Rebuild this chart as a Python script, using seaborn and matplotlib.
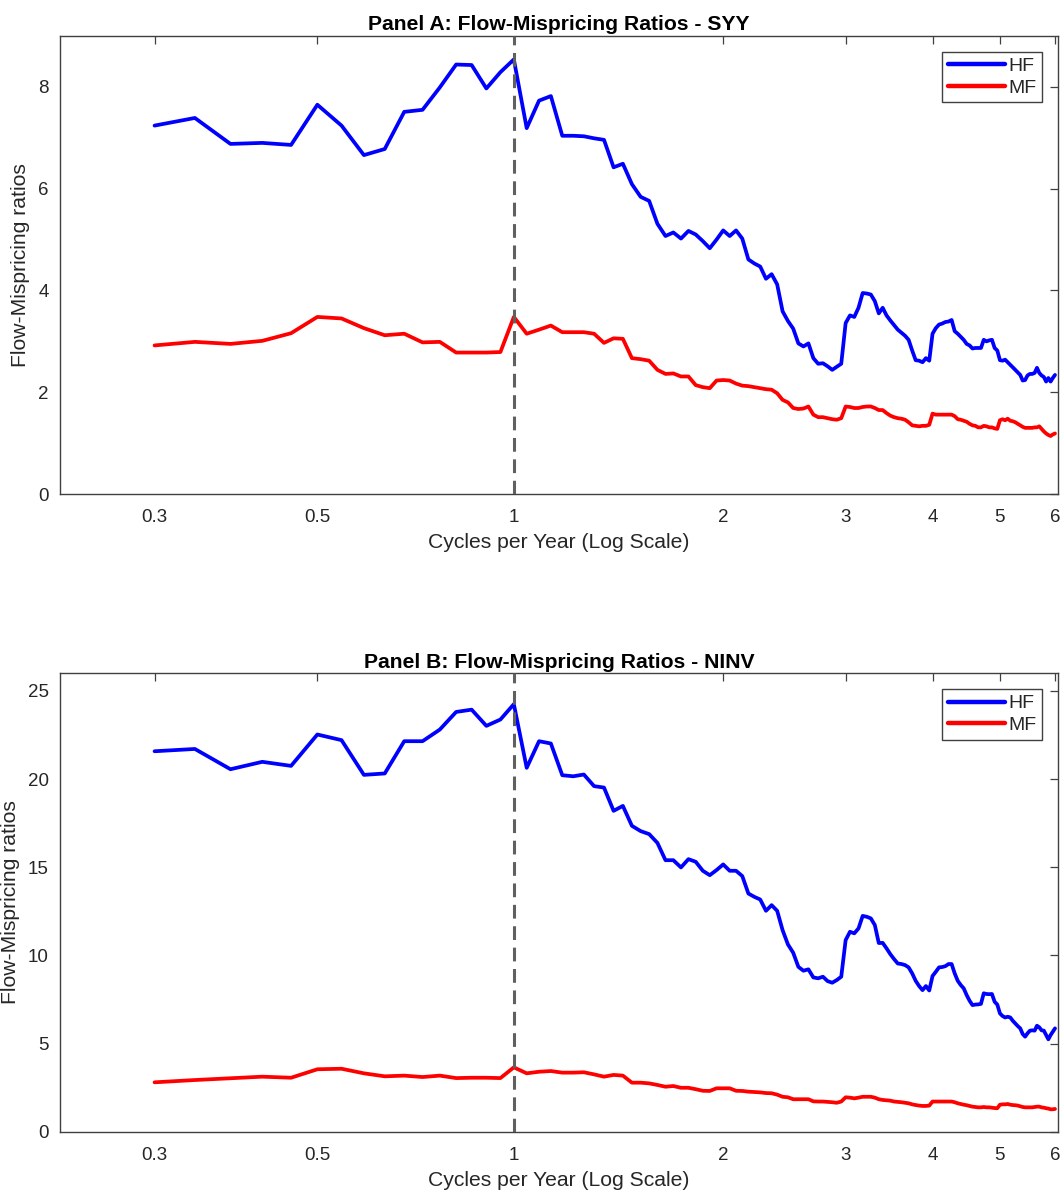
import numpy as np
import pandas as pd
import seaborn as sns
import matplotlib
matplotlib.use('Agg')
import matplotlib.pyplot as plt
from matplotlib.ticker import NullLocator, FixedLocator, FixedFormatter

sns.set_style('white')
plt.rcParams['font.family'] = ['Liberation Sans', 'DejaVu Sans']
plt.rcParams['xtick.direction'] = 'in'
plt.rcParams['ytick.direction'] = 'in'
plt.rcParams['xtick.top'] = True
plt.rcParams['ytick.right'] = True

# frequency grid in cycles per year (k / 23, k = 7 ... 138)
freq = np.arange(7, 139) / 23

syy_hf = [7.24, 7.39, 6.88, 6.90, 6.86, 7.65, 7.24, 6.66, 6.78, 7.51, 7.55, 7.99, 8.44, 8.43, 7.97, 8.29, 8.54,
          7.19, 7.73, 7.82, 7.04, 7.04, 7.03, 6.99, 6.96, 6.42, 6.49, 6.09, 5.84, 5.76, 5.31, 5.07, 5.14, 5.02, 5.17, 5.10,
          4.97, 4.83, 5.00, 5.18, 5.07, 5.18, 5.02, 4.61, 4.53, 4.47, 4.23, 4.32, 4.12, 3.59, 3.40, 3.25, 2.96, 2.90,
          2.96, 2.67, 2.56, 2.57, 2.51, 2.44, 2.50, 2.56, 3.36, 3.51, 3.48, 3.66, 3.95, 3.94, 3.92, 3.79, 3.55,
          3.66, 3.51, 3.41, 3.32, 3.23, 3.17, 3.11, 3.03, 2.82, 2.63, 2.62, 2.59, 2.67, 2.62,
          3.15, 3.26, 3.33, 3.35, 3.38, 3.39, 3.42,
          3.20, 3.15, 3.09, 3.03, 2.95, 2.92, 2.86, 2.87, 2.87, 2.87, 3.03, 3.00, 3.02, 3.03, 2.87, 2.82,
          2.63, 2.62, 2.64, 2.59, 2.54, 2.49, 2.44, 2.39, 2.34, 2.23, 2.24, 2.33, 2.36, 2.36, 2.38, 2.48, 2.38, 2.33,
          2.30, 2.21, 2.28, 2.21, 2.28, 2.34]
syy_mf = [2.92, 2.99, 2.95, 3.01, 3.16, 3.48, 3.45, 3.26, 3.12, 3.15, 2.98, 2.99, 2.78, 2.78, 2.78, 2.79, 3.48,
          3.15, 3.23, 3.31, 3.18, 3.18, 3.18, 3.15, 2.97, 3.06, 3.05, 2.67, 2.65, 2.62, 2.44, 2.36, 2.37, 2.31, 2.31, 2.14,
          2.10, 2.08, 2.23, 2.24, 2.23, 2.17, 2.13, 2.12, 2.10, 2.08, 2.06, 2.05, 1.98, 1.85, 1.80, 1.69, 1.67, 1.68,
          1.72, 1.56, 1.51, 1.51, 1.49, 1.47, 1.46, 1.49, 1.72, 1.71, 1.69, 1.69, 1.71, 1.72, 1.72, 1.69, 1.65,
          1.65, 1.59, 1.54, 1.51, 1.49, 1.48, 1.46, 1.41, 1.35, 1.34, 1.33, 1.34, 1.34, 1.36,
          1.58, 1.56, 1.56, 1.56, 1.56, 1.56, 1.56,
          1.53, 1.47, 1.46, 1.44, 1.42, 1.38, 1.35, 1.34, 1.31, 1.31, 1.34, 1.33, 1.31, 1.31, 1.29, 1.28,
          1.45, 1.47, 1.45, 1.48, 1.44, 1.43, 1.41, 1.38, 1.35, 1.32, 1.30, 1.30, 1.30, 1.30, 1.31, 1.31, 1.33, 1.28,
          1.23, 1.19, 1.16, 1.14, 1.17, 1.19]

ninv_hf = [21.58, 21.71, 20.56, 20.98, 20.75, 22.53, 22.21, 20.24, 20.32, 22.15, 22.15, 22.81, 23.81, 23.94, 23.02,
           23.38, 24.25,
           20.64, 22.15, 22.02, 20.22, 20.16, 20.26, 19.60, 19.52, 18.20, 18.48, 17.35, 17.05, 16.88, 16.38, 15.40,
           15.40, 14.99, 15.46, 15.31,
           14.80, 14.55, 14.84, 15.16, 14.80, 14.80, 14.50, 13.51, 13.32, 13.17, 12.53, 12.85, 12.53, 11.43, 10.62,
           10.15, 9.35, 9.13, 9.21, 8.75, 8.70, 8.79, 8.54, 8.45, 8.60, 8.79, 10.87, 11.34, 11.25, 11.53, 12.24,
           12.19, 12.10, 11.72, 10.70,
           10.71, 10.40, 10.07, 9.79, 9.54, 9.51, 9.45, 9.32, 8.98, 8.56, 8.26, 8.03, 8.26, 8.01,
           8.83, 9.07, 9.32, 9.34, 9.39, 9.51, 9.51,
           8.98, 8.56, 8.32, 8.13, 7.75, 7.43, 7.18, 7.21, 7.22, 7.25, 7.85, 7.81, 7.80, 7.81, 7.37, 7.21,
           6.71, 6.56, 6.48, 6.52, 6.48, 6.29, 6.14, 5.99, 5.86, 5.54, 5.39, 5.58, 5.73, 5.75, 5.73, 6.01, 5.92,
           5.75, 5.73, 5.48, 5.24, 5.48, 5.67, 5.86]
ninv_mf = [2.80, 2.93, 3.03, 3.12, 3.06, 3.54, 3.57, 3.31, 3.14, 3.18, 3.10, 3.18, 3.04, 3.06, 3.06, 3.04, 3.65,
           3.31, 3.40, 3.44, 3.35, 3.35, 3.37, 3.25, 3.12, 3.22, 3.18, 2.78, 2.78, 2.74, 2.65, 2.55, 2.59, 2.49, 2.49,
           2.41,
           2.32, 2.31, 2.46, 2.46, 2.46, 2.32, 2.31, 2.27, 2.25, 2.23, 2.19, 2.18, 2.10, 1.98, 1.95, 1.84, 1.84, 1.84,
           1.84, 1.72, 1.71, 1.71, 1.69, 1.67, 1.64, 1.71, 1.95, 1.93, 1.89, 1.93, 1.98, 1.98, 1.98, 1.93, 1.84,
           1.80, 1.78, 1.76, 1.71, 1.69, 1.67, 1.64, 1.61, 1.55, 1.51, 1.48, 1.46, 1.46, 1.48,
           1.71, 1.71, 1.71, 1.71, 1.71, 1.71, 1.71,
           1.67, 1.61, 1.57, 1.53, 1.50, 1.46, 1.42, 1.40, 1.38, 1.38, 1.40, 1.38, 1.38, 1.36, 1.34, 1.33,
           1.53, 1.55, 1.55, 1.57, 1.53, 1.51, 1.50, 1.48, 1.44, 1.40, 1.38, 1.38, 1.38, 1.38, 1.40, 1.42, 1.42,
           1.38, 1.36, 1.33, 1.31, 1.27, 1.27, 1.29]

tick_pos = [7 / 23, 12 / 23, 1, 2, 3, 4, 5, 6]
tick_lab = ['0.3', '0.5', '1', '2', '3', '4', '5', '6']

panels = [
    ('Panel A: Flow-Mispricing Ratios - SYY', syy_hf, syy_mf, [0, 9], [0, 2, 4, 6, 8]),
    ('Panel B: Flow-Mispricing Ratios - NINV', ninv_hf, ninv_mf, [0, 26], [0, 5, 10, 15, 20, 25]),
]

fig = plt.figure(figsize=(10.63, 11.93), dpi=100)
axes_rects = [[0.0564, 0.5859, 0.9389, 0.3839], [0.0564, 0.0514, 0.9389, 0.3842]]
axis_col = '#404040'

for rect, (title, hf, mf, ylim, yticks) in zip(axes_rects, panels):
    ax = fig.add_axes(rect)
    df = pd.DataFrame({'freq': np.concatenate([freq, freq]),
                       'ratio': np.concatenate([hf, mf]),
                       'series': ['HF'] * len(freq) + ['MF'] * len(freq)})
    sns.lineplot(data=df, x='freq', y='ratio', hue='series', palette={'HF': '#0000FF', 'MF': '#FF0000'},
                 linewidth=2.7, ax=ax)
    ax.axvline(1, color='#606060', linestyle=(0, (4.5, 2.5)), linewidth=2.2, zorder=3)

    ax.set_xscale('log')
    ax.set_xlim(0.2225, 6.06)
    ax.set_ylim(ylim)
    ax.xaxis.set_major_locator(FixedLocator(tick_pos))
    ax.xaxis.set_major_formatter(FixedFormatter(tick_lab))
    ax.xaxis.set_minor_locator(NullLocator())
    ax.set_yticks(yticks)
    ax.tick_params(axis='y', which='major', pad=8)
    ax.tick_params(axis='x', which='major', pad=11)
    ax.tick_params(axis='both', which='major', direction='in', length=6, width=0.9,
                   colors=axis_col, labelcolor='#262626', labelsize=13.5)
    for sp in ax.spines.values():
        sp.set_color(axis_col)
        sp.set_linewidth(1.0)

    ax.set_xlabel('Cycles per Year (Log Scale)', fontsize=15.2, color='#262626', labelpad=5)
    ax.set_ylabel('Flow-Mispricing ratios', fontsize=15.2, color='#262626', labelpad=6)
    ax.set_title(title, fontsize=15.2, fontweight='bold', color='black', pad=4)

    leg = ax.legend(loc='upper right', fontsize=14, frameon=True, fancybox=False, framealpha=1,
                    edgecolor='#404040', handlelength=2.9, handletextpad=0.2, borderpad=0.3,
                    labelspacing=0.2, borderaxespad=0.8)
    leg.get_frame().set_linewidth(1.0)
    for line in leg.get_lines():
        line.set_linewidth(3.2)

fig.savefig('out.png', dpi=100)
